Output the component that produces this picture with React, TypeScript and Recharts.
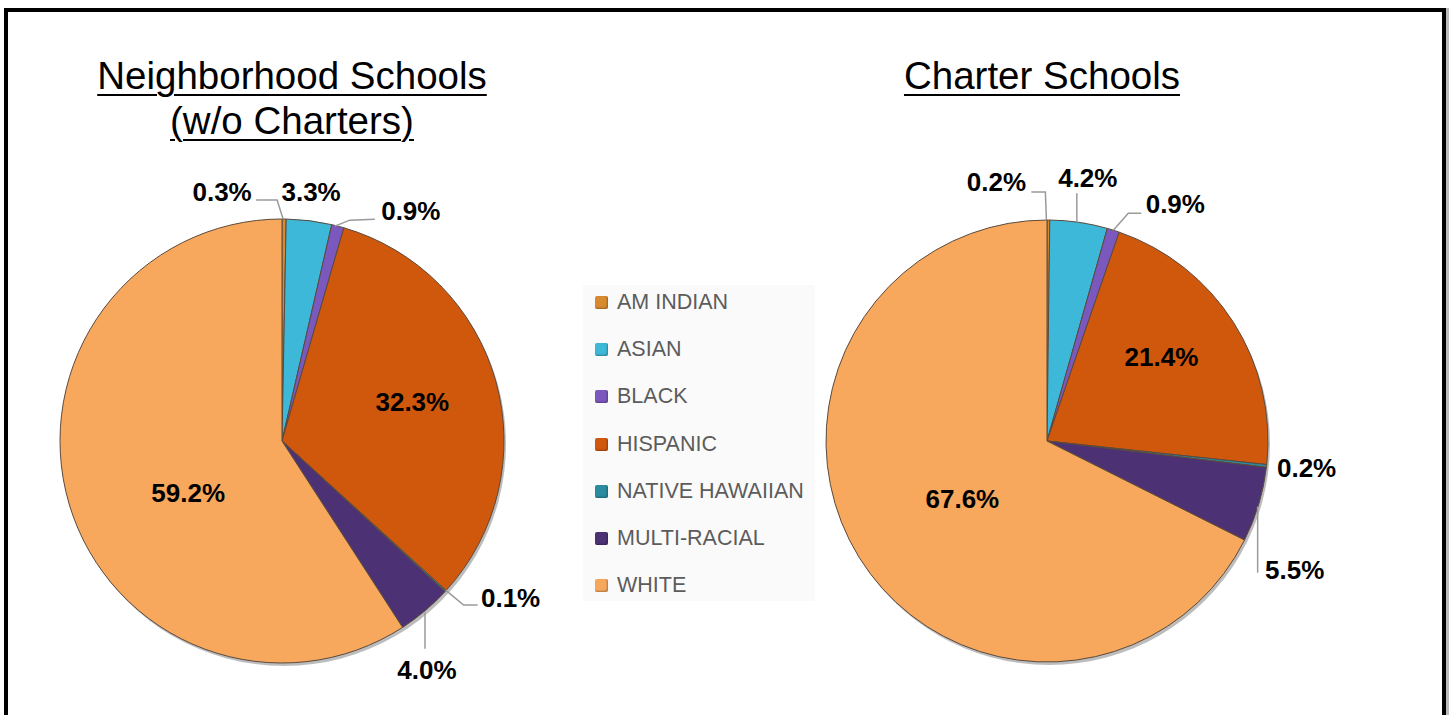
import * as React from "react";
import { Cell, Legend, Pie, PieChart } from "recharts";

const CATEGORIES = [
  "AM INDIAN",
  "ASIAN",
  "BLACK",
  "HISPANIC",
  "NATIVE HAWAIIAN",
  "MULTI-RACIAL",
  "WHITE",
];
const NEIGHBORHOOD_PCT = [0.3, 3.3, 0.9, 32.3, 0.1, 4.0, 59.2];
const CHARTER_PCT = [0.2, 4.2, 0.9, 21.4, 0.2, 5.5, 67.6];

const COLORS = ["#D98A2E", "#3DB8D9", "#7B58BD", "#D0580C", "#2B8C9F", "#4D3175", "#F7A85D"];

type LabelSpot =
  | { mode: "in"; f: number; dx: number; dy: number }
  | { mode: "out"; dx: number; dy: number; leader?: number[][] };

// label placement relative to the slice (inside: fraction of radius, outside: offset from rim point)
const LEFT_LABELS: LabelSpot[] = [
  { mode: "out", dx: -62, dy: -27, leader: [[-1, 0], [-7, -19], [-28, -19]] },
  { mode: "out", dx: 2, dy: -29 },
  { mode: "out", dx: 73, dy: -15, leader: [[-3, 0], [12, -6], [37, -7]] },
  { mode: "in", f: 0.61, dx: 0, dy: -2 },
  { mode: "out", dx: 65, dy: 7, leader: [[0, -1], [18, 14], [32, 14]] },
  { mode: "out", dx: 2, dy: 59, leader: [[0, 2], [0, 38]] },
  { mode: "in", f: 0.45, dx: 2, dy: 24 },
];

const RIGHT_LABELS: LabelSpot[] = [
  { mode: "out", dx: -52, dy: -38, leader: [[-2, 0], [-3, -28], [-17, -28]] },
  { mode: "out", dx: 9, dy: -44, leader: [[-2, 0], [-2, -29]] },
  { mode: "out", dx: 62, dy: -26, leader: [[0, 0], [15, -17], [28, -17]] },
  { mode: "in", f: 0.64, dx: -5, dy: -8 },
  { mode: "out", dx: 40, dy: 2 },
  { mode: "out", dx: 36, dy: 65, leader: [[-1, 2], [-1, 68]] },
  { mode: "in", f: 0.45, dx: 0, dy: 6 },
];

const RADIAN = Math.PI / 180;

function makeLabel(spots: LabelSpot[]) {
  return (props: any) => {
    const { cx, cy, midAngle, outerRadius, index, value } = props;
    const spot = spots[index];
    const cos = Math.cos(-midAngle * RADIAN);
    const sin = Math.sin(-midAngle * RADIAN);
    let x: number;
    let y: number;
    let leader: React.ReactNode = null;
    if (spot.mode === "in") {
      x = cx + outerRadius * spot.f * cos + spot.dx;
      y = cy + outerRadius * spot.f * sin + spot.dy;
    } else {
      const ex = cx + outerRadius * cos;
      const ey = cy + outerRadius * sin;
      x = ex + spot.dx;
      y = ey + spot.dy;
      if (spot.leader) {
        leader = (
          <polyline
            points={spot.leader.map(([px, py]) => `${ex + px},${ey + py}`).join(" ")}
            fill="none"
            stroke="#9a9a9a"
            strokeWidth={1.5}
          />
        );
      }
    }
    return (
      <g key={`lbl-${index}`}>
        {leader}
        <text
          x={x}
          y={y}
          textAnchor="middle"
          dominantBaseline="central"
          fontFamily="'Liberation Sans', Arial, sans-serif"
          fontWeight={700}
          fontSize={26}
          fill="#000"
        >
          {`${value.toFixed(1)}%`}
        </text>
      </g>
    );
  };
}

const neighborhoodData = CATEGORIES.map((name, i) => ({ name, value: NEIGHBORHOOD_PCT[i] }));
const charterData = CATEGORIES.map((name, i) => ({ name, value: CHARTER_PCT[i] }));
const shadowData = [{ name: "shadow", value: 1 }];

function LegendBox() {
  return (
    <div style={{ width: 232, position: "relative" }}>
      <div
        style={{
          position: "absolute",
          left: 0,
          top: 6,
          width: 232,
          height: 316,
          background: "#fafafa",
        }}
      />
      <div style={{ position: "relative", paddingLeft: 12 }}>
        {CATEGORIES.map((c, i) => (
          <div
            key={c}
            style={{
              height: 47.2,
              display: "flex",
              alignItems: "center",
              fontFamily: "'Liberation Sans', Arial, sans-serif",
              fontSize: 21.5,
              color: "#5c5c5c",
            }}
          >
            <span
              style={{
                display: "inline-block",
                width: 13,
                height: 13,
                background: COLORS[i],
                marginRight: 9,
                borderRadius: 2,
                boxShadow: "inset -1px -1px 2px rgba(0,0,0,0.3)",
              }}
            />
            {c}
          </div>
        ))}
      </div>
    </div>
  );
}

const titleStyle: React.CSSProperties = {
  position: "absolute",
  fontFamily: "'Liberation Sans', Arial, sans-serif",
  fontSize: 38.5,
  color: "#000",
  textDecoration: "underline",
  textUnderlineOffset: 5,
  textDecorationThickness: 2,
  textAlign: "center",
  lineHeight: "45px",
  whiteSpace: "nowrap",
};

export default function App() {
  return (
    <div style={{ position: "absolute", left: 0, top: 0, width: 1450, height: 715, overflow: "hidden", background: "#fff" }}>
      <div
        style={{
          position: "absolute",
          left: 4,
          top: 8,
          width: 1434,
          height: 740,
          border: "4px solid #000",
          boxShadow: "3px 0 0 #bbb",
        }}
      />
      <div style={{ ...titleStyle, left: 92, top: 53, width: 400 }}>
        Neighborhood Schools
        <br />
        (w/o Charters)
      </div>
      <div style={{ ...titleStyle, left: 842, top: 53, width: 400 }}>Charter Schools</div>
      <div style={{ position: "absolute", left: 0, top: 0 }}>
        <PieChart width={1450} height={715} margin={{ top: 0, right: 0, bottom: 0, left: 0 }}>
          <Pie
            data={shadowData}
            dataKey="value"
            cx={284}
            cy={444}
            outerRadius={222}
            fill="#6b6b6b"
            fillOpacity={0.45}
            stroke="none"
            isAnimationActive={false}
          />
          <Pie
            data={shadowData}
            dataKey="value"
            cx={1049}
            cy={444}
            outerRadius={221}
            fill="#6b6b6b"
            fillOpacity={0.45}
            stroke="none"
            isAnimationActive={false}
          />
          <Pie
            data={neighborhoodData}
            dataKey="value"
            nameKey="name"
            cx={282}
            cy={441}
            outerRadius={222}
            startAngle={90}
            endAngle={-270}
            stroke="#5b4a3c"
            strokeWidth={1}
            labelLine={false}
            label={makeLabel(LEFT_LABELS)}
            isAnimationActive={false}
          >
            {neighborhoodData.map((d, i) => (
              <Cell key={d.name} fill={COLORS[i]} />
            ))}
          </Pie>
          <Pie
            data={charterData}
            dataKey="value"
            nameKey="name"
            cx={1047}
            cy={441}
            outerRadius={221}
            startAngle={90}
            endAngle={-270}
            stroke="#5b4a3c"
            strokeWidth={1}
            labelLine={false}
            label={makeLabel(RIGHT_LABELS)}
            isAnimationActive={false}
          >
            {charterData.map((d, i) => (
              <Cell key={d.name} fill={COLORS[i]} />
            ))}
          </Pie>
          <Legend
            content={() => <LegendBox />}
            wrapperStyle={{ left: 583, top: 279, width: 232 }}
          />
        </PieChart>
      </div>
    </div>
  );
}
